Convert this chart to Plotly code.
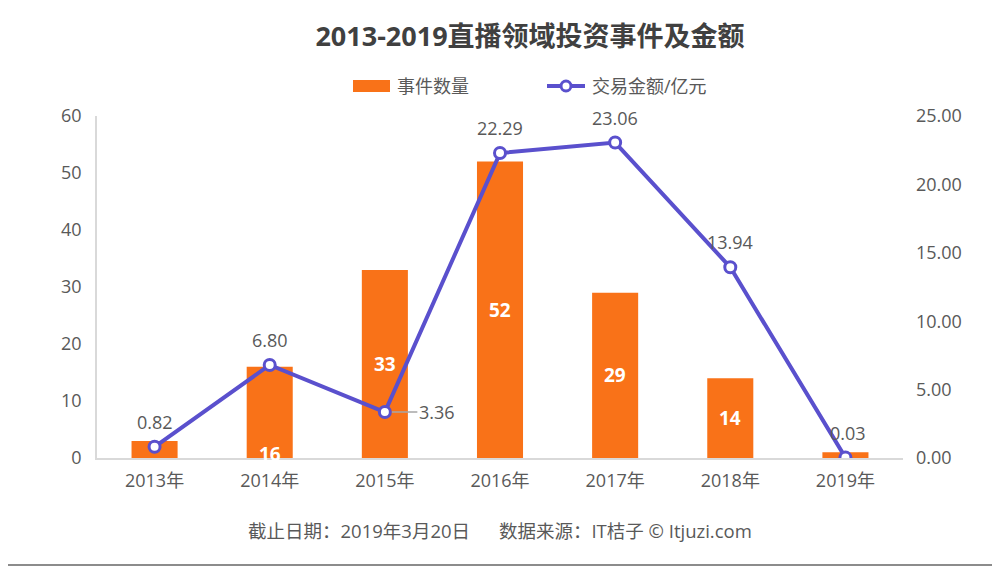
import plotly.graph_objects as go

years = ["2013年", "2014年", "2015年", "2016年", "2017年", "2018年", "2019年"]
event_counts = [3, 16, 33, 52, 29, 14, 1]
amounts = [0.82, 6.80, 3.36, 22.29, 23.06, 13.94, 0.03]
left_ticks = [0, 10, 20, 30, 40, 50, 60]
right_ticks = [0, 5, 10, 15, 20, 25]

FONT = "Open Sans, Noto Sans CJK SC"
ORANGE = "#F97218"
BLUE = "#5A50CD"
TXT = "#595959"

# page is offset by 8px body margin
OFF = 8
W, H = 1000 - OFF, 567 - OFF
L = 97 - OFF
T = 116 - OFF
R = W - (903 - OFF)
B = H - (458 - OFF)
PW, PH = W - L - R, H - T - B


def px(x):
    return (x - OFF - L) / PW


def py(y):
    return 1 - (y - OFF - T) / PH


fig = go.Figure()
fig.add_trace(go.Bar(
    x=years, y=event_counts, name="事件数量",
    marker=dict(color=ORANGE, line=dict(width=0)),
    width=0.4, yaxis="y", showlegend=False,
))
fig.add_trace(go.Scatter(
    x=years, y=amounts, name="交易金额/亿元", yaxis="y2",
    mode="lines+markers", showlegend=False,
    line=dict(color=BLUE, width=4),
    marker=dict(symbol="circle", size=11, color="white",
                line=dict(color=BLUE, width=3)),
))

annotations = []
# in-bar count labels (white bold)
for yr, v in zip(years, event_counts):
    if v < 5:
        continue
    low = 15 <= v <= 20
    annotations.append(dict(
        x=yr, y=0 if low else v / 2, xref="x", yref="y", text=f"<b>{v}</b>",
        showarrow=False, yshift=4 if low else 0,
        font=dict(family=FONT, size=19, color="white"), yanchor="middle",
    ))
# amount labels
for yr, a in zip(years, amounts):
    if abs(a - 3.36) < 1e-9:
        annotations.append(dict(
            x=yr, y=a, xref="x", yref="y2", text=f"{a:.2f}", showarrow=True,
            arrowhead=0, arrowwidth=1.5, arrowcolor="#A6A6A6",
            ax=52, ay=0, standoff=7, startstandoff=0,
            font=dict(family=FONT, size=18, color=TXT),
        ))
    else:
        annotations.append(dict(
            x=yr, y=a, xref="x", yref="y2", text=f"{a:.2f}", showarrow=False,
            yanchor="bottom", yshift=11, xshift=3 if a < 0.5 else 0,
            font=dict(family=FONT, size=18, color=TXT),
        ))
# source line
annotations.append(dict(
    x=px(500), y=py(530), xref="paper", yref="paper",
    text="截止日期：2019年3月20日&nbsp;&nbsp;&nbsp;&nbsp;&nbsp;&nbsp;数据来源：IT桔子 © Itjuzi.com",
    showarrow=False, font=dict(family=FONT, size=18.5, color=TXT),
    xanchor="center", yanchor="middle",
))
# custom legend labels
annotations.append(dict(x=px(395), y=py(86), xref="paper", yref="paper",
                        text="事件数量", showarrow=False, xanchor="left", yanchor="middle",
                        font=dict(family=FONT, size=18, color=TXT)))
annotations.append(dict(x=px(590), y=py(86), xref="paper", yref="paper",
                        text="交易金额/亿元", showarrow=False, xanchor="left", yanchor="middle",
                        font=dict(family=FONT, size=18, color=TXT)))

shapes = [
    # legend swatches
    dict(type="rect", xref="paper", yref="paper", x0=px(353), x1=px(390),
         y0=py(92), y1=py(80), fillcolor=ORANGE, line=dict(width=0)),
    dict(type="line", xref="paper", yref="paper", x0=px(547), x1=px(585),
         y0=py(86), y1=py(86), line=dict(color=BLUE, width=4)),
    dict(type="circle", xref="paper", yref="paper", x0=px(561), x1=px(571),
         y0=py(91), y1=py(81), fillcolor="white", line=dict(color=BLUE, width=3)),
    # outer border (right / bottom visible)
    dict(type="rect", xref="paper", yref="paper",
         x0=px(-5), x1=px(998), y0=py(565), y1=py(-5),
         line=dict(color="#8C8C8C", width=2), layer="below"),
]

fig.update_layout(
    width=W, height=H,
    margin=dict(l=L, r=R, t=T, b=B),
    paper_bgcolor="white", plot_bgcolor="white",
    font=dict(family=FONT, size=18, color=TXT),
    title=dict(text="<b>2013-2019直播领域投资事件及金额</b>",
               x=(530 - OFF) / W, xanchor="center", y=1 - (37 - OFF) / H, yanchor="middle",
               font=dict(family=FONT, size=27, color="#404040")),
    showlegend=False,
    bargap=0.6,
    xaxis=dict(showline=True, linecolor="#D9D9D9", linewidth=1.5,
               ticks="", showgrid=False, tickfont=dict(size=18, color=TXT),
               ticklabelstandoff=6),
    yaxis=dict(range=[0, 60], tickvals=left_ticks, showgrid=False,
               showline=True, linecolor="#D9D9D9", linewidth=1.5,
               zeroline=False, ticks="", tickfont=dict(size=18, color=TXT),
               ticklabelstandoff=10),
    yaxis2=dict(range=[0, 25], tickvals=right_ticks, overlaying="y", side="right",
                tickformat=".2f", showgrid=False, showline=False, zeroline=False,
                ticks="", tickfont=dict(size=18, color=TXT), ticklabelstandoff=12),
    annotations=annotations,
    shapes=shapes,
)

fig.write_html("out.html")
